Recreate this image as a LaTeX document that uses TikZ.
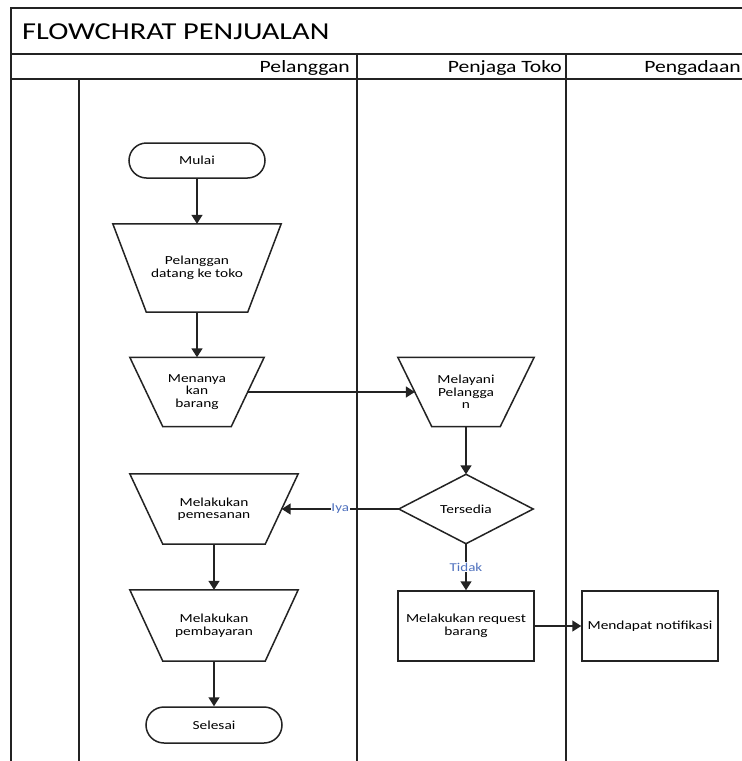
\documentclass[tikz,border=0pt]{standalone}
\usepackage{fontspec}
\setmainfont{Carlito}[FakeStretch=1.25]
\usetikzlibrary{arrows.meta}
\definecolor{ln}{RGB}{35,35,35}
\definecolor{lbl}{RGB}{79,113,190}
\tikzset{
  shp/.style={draw=ln, line width=1.5pt},
  box/.style={inner sep=0pt, align=center, font=\fontsize{12.3}{12.5}\selectfont, text=black},
  hdr/.style={inner sep=0pt, font=\fontsize{17.3}{17}\selectfont, text=black},
  arr/.style={draw=ln, line width=1.5pt, -{Triangle[length=9pt,width=11pt]}},
  lane/.style={draw=ln, line width=1.8pt},
  yn/.style={fill=white, text=lbl, inner sep=0.6pt, font=\fontsize{12}{12}\selectfont},
}
\newcommand\trapshape[2]{\draw[shp] (#1.north west) -- (#1.north east) -- ([xshift=-#2pt]#1.south east) -- ([xshift=#2pt]#1.south west) -- cycle;}
\begin{document}
\begin{tikzpicture}[x=1pt,y=-1pt]
\useasboundingbox (0,0) rectangle (742,761);
\clip (0,0) rectangle (742,761);
\fill[white] (0,0) rectangle (742,761);
% frame and lanes
\draw[lane] (11,770) -- (11,8) -- (750,8);
\draw[lane] (11,54) -- (750,54);
\draw[lane] (11,79) -- (750,79);
\draw[lane] (79,79) -- (79,770);
\draw[lane] (357,54) -- (357,770);
\draw[lane] (566,54) -- (566,770);
% titles
\node[box, font=\fontsize{24.3}{24}\selectfont, anchor=base west] (title) at (22,39) {FLOWCHRAT PENJUALAN};
\node[hdr, anchor=base east] (h1) at (350,72) {Pelanggan};
\node[hdr, anchor=base east] (h2) at (562,72) {Penjaga Toko};
\node[hdr, anchor=base east] (h3) at (741,72) {Pengadaan};
% nodes
\node[box, shp, rounded corners=17.5pt, minimum width=136pt, minimum height=35pt] (mulai) at (197,160.5) {Mulai};
\node[box, minimum width=168pt, minimum height=88pt] (t1) at (197,268) {Pelanggan\\datang ke toko};
\trapshape{t1}{33.5}
\node[box, minimum width=134pt, minimum height=69pt] (t2) at (197,392) {Menanya\\kan\\barang};
\trapshape{t2}{33}
\node[box, minimum width=136pt, minimum height=69pt] (t3) at (466,392) {Melayani\\Pelangga\\n};
\trapshape{t3}{34}
\node[box, minimum width=134pt, minimum height=69pt] (d) at (466,509) {Tersedia};
\draw[shp] (d.north) -- (d.east) -- (d.south) -- (d.west) -- cycle;
\node[box, minimum width=168pt, minimum height=70pt] (t4) at (214,509) {Melakukan\\pemesanan};
\trapshape{t4}{33}
\node[box, minimum width=168pt, minimum height=71pt] (t5) at (214,625.5) {Melakukan\\pembayaran};
\trapshape{t5}{33}
\node[box, shp, rounded corners=18pt, minimum width=136pt, minimum height=36pt] (selesai) at (214,725) {Selesai};
\node[box, shp, minimum width=136pt, minimum height=70pt] (r1) at (466,626) {Melakukan request\\barang};
\node[box, shp, minimum width=136pt, minimum height=70pt] (r2) at (650,626) {Mendapat notifikasi};
% connectors
\draw[arr] (mulai.south) -- (t1.north);
\draw[arr] (t1.south) -- (t2.north);
\draw[arr] ([xshift=-16.5pt]t2.east) -- ([xshift=17pt]t3.west);
\draw[arr] (t3.south) -- (d.north);
\draw[arr] (d.west) -- node[yn] {Iya} ([xshift=-16.5pt]t4.east);
\draw[arr] (t4.south) -- (t5.north);
\draw[arr] (t5.south) -- (selesai.north);
\draw[arr] (d.south) -- node[yn] {Tidak} (r1.north);
\draw[arr] (r1.east) -- (r2.west);
\end{tikzpicture}
\end{document}
